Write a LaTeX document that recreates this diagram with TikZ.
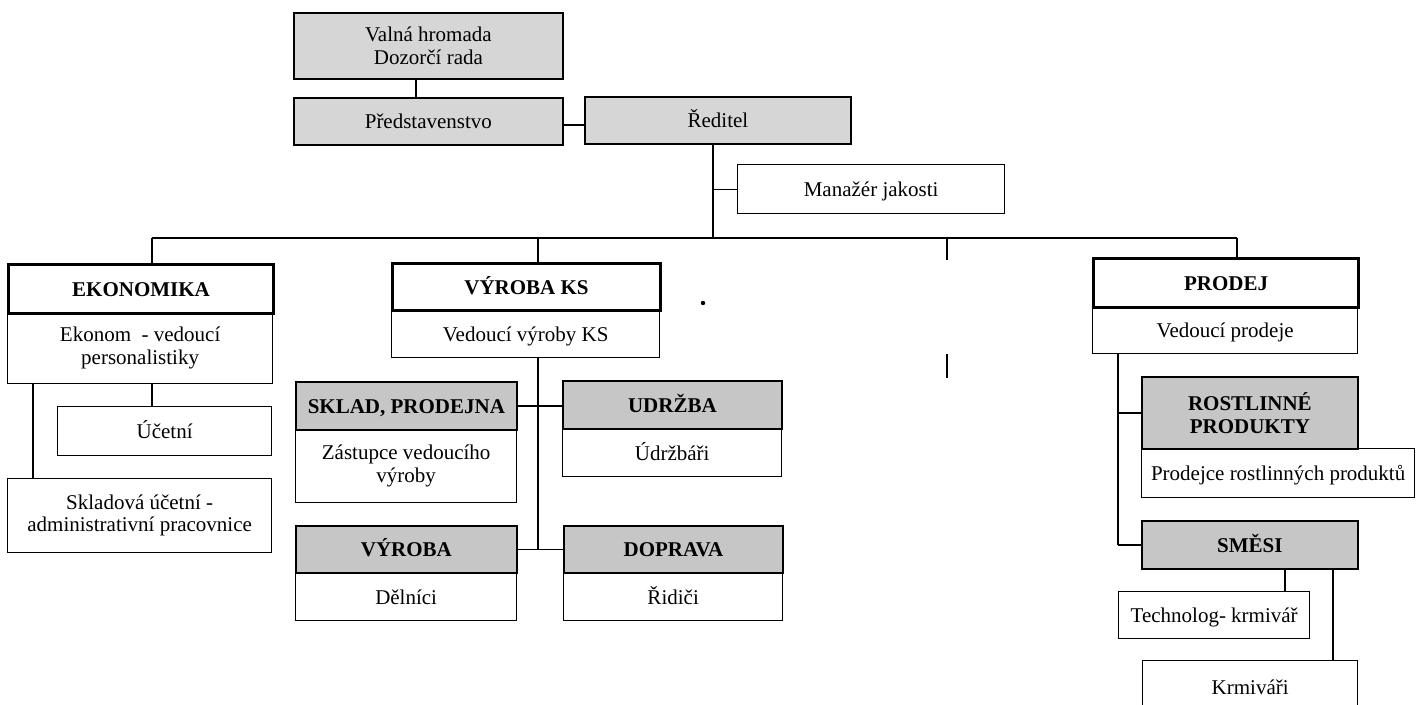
\documentclass[tikz,border=0pt]{standalone}
\usepackage{fontspec}
\setmainfont{Liberation Serif}
\definecolor{topg}{RGB}{214,214,214}
\definecolor{hdr}{RGB}{198,198,198}
\begin{document}
\begin{tikzpicture}[x=1pt,y=-1pt,
  fs/.style={font=\fontsize{21}{22.5}\selectfont},
  box/.style={draw, line width=1.3pt, fill=white, inner sep=0pt, align=center, anchor=north west, fs},
  sl/.style={text height=16pt, text depth=1pt},
  thickhead/.style={box, line width=3pt, font=\fontsize{21}{22.5}\selectfont\bfseries},
  grayhead/.style={box, line width=1.8pt, fill=hdr, font=\fontsize{21}{22.5}\selectfont\bfseries},
  topbox/.style={box, line width=1.8pt, fill=topg},
  link/.style={draw, line width=1.3pt}]
\useasboundingbox (0,0) rectangle (1423,704);
\clip (0,0) rectangle (1423,704);
\fill[white] (0,0) rectangle (1423,704);

% top
\node[topbox, minimum width=269pt, minimum height=66pt] (valna) at (293,12) {Valná hromada\\Dozorčí rada};
\node[topbox, sl, minimum width=269pt, minimum height=47pt] (pred) at (293,97) {Představenstvo};
\node[topbox, sl, minimum width=266pt, minimum height=47pt] (red) at (584,96) {Ředitel};
\node[box, sl, minimum width=267pt, minimum height=49pt] (manazer) at (737,164) {Manažér jakosti};

% EKONOMIKA
\node[box, minimum width=265pt, minimum height=71pt] (ekoB) at (7,312) {Ekonom \ - vedoucí\\personalistiky};
\node[thickhead, sl, minimum width=265pt, minimum height=49pt] (ekoH) at (7,263) {EKONOMIKA};
\node[box, sl, minimum width=214pt, minimum height=49pt] (ucetni) at (57,406) {Účetní};
\node[box, minimum width=264pt, minimum height=74pt] (skladova) at (7,478) {Skladová účetní -\\administrativní pracovnice};

% VYROBA KS
\node[box, sl, minimum width=268pt, minimum height=48pt] (vksB) at (391,309) {Vedoucí výroby KS};
\node[thickhead, sl, minimum width=268pt, minimum height=47pt] (vksH) at (391,262) {VÝROBA KS};
\node[box, minimum width=221pt, minimum height=73pt] (skladB) at (295,429) {Zástupce vedoucího\\výroby};
\node[grayhead, sl, minimum width=221pt, minimum height=48pt] (skladH) at (295,381) {SKLAD, PRODEJNA};
\node[box, sl, minimum width=219pt, minimum height=48pt] (udrB) at (562,428) {Údržbáři};
\node[grayhead, sl, minimum width=219pt, minimum height=48pt] (udrH) at (562,380) {UDRŽBA};
\node[box, sl, minimum width=221pt, minimum height=48pt] (vyrB) at (295,572) {Dělníci};
\node[grayhead, sl, minimum width=221pt, minimum height=47pt] (vyrH) at (295,525) {VÝROBA};
\node[box, sl, minimum width=219pt, minimum height=48pt] (dopB) at (563,572) {Řidiči};
\node[grayhead, sl, minimum width=219pt, minimum height=47pt] (dopH) at (563,525) {DOPRAVA};

% PRODEJ
\node[box, sl, minimum width=265pt, minimum height=47pt] (prodB) at (1092,306) {Vedoucí prodeje};
\node[thickhead, sl, minimum width=265pt, minimum height=49pt] (prodH) at (1092,257) {PRODEJ};
\node[box, sl, minimum width=273pt, minimum height=49pt] (rostB) at (1141,448) {Prodejce rostlinných produktů};
\node[grayhead, minimum width=216pt, minimum height=72pt] (rostH) at (1141,376) {ROSTLINNÉ\\PRODUKTY};
\node[grayhead, sl, minimum width=216pt, minimum height=48pt] (smesi) at (1141,520) {SMĚSI};
\node[box, sl, minimum width=191pt, minimum height=47pt] (tech) at (1118,591) {Technolog- krmivář};
\node[box, sl, minimum width=215pt, minimum height=52pt] (krm) at (1142,660) {Krmiváři};

% connector coordinates
\coordinate (cv) at (416,0);
\coordinate (tr) at (713,0);
\coordinate (bus) at (0,238);
\coordinate (rl) at (0,125);
\coordinate (ce) at (152,0);
\coordinate (ce2) at (33,0);
\coordinate (cv2) at (538,0);
\coordinate (cp) at (1237,0);
\coordinate (cp2) at (1118,0);
\coordinate (cs1) at (1285,0);
\coordinate (cs2) at (1333,0);
\coordinate (tick) at (947,0);
\coordinate (t1) at (0,260);
\coordinate (t2) at (0,354);
\coordinate (t3) at (0,378);

\path[link] (valna.south -| cv) -- (pred.north -| cv);
\path[link] (rl -| pred.east) -- (rl -| red.west);
\path[link] (red.south -| tr) -- (bus -| tr);
\path[link] (manazer.west -| tr) -- (manazer.west);
\path[link] (bus -| ce) -- (bus -| cp);
\path[link] (bus -| ce) -- (ekoH.north -| ce);
\path[link] (bus -| cv2) -- (vksH.north -| cv2);
\path[link] (bus -| cp) -- (prodH.north -| cp);
\path[link] (bus -| tick) -- (t1 -| tick);
\path[link] (t2 -| tick) -- (t3 -| tick);

\path[link] (ekoB.south -| ce2) -- (skladova.north -| ce2);
\path[link] (ekoB.south -| ce) -- (ucetni.north -| ce);

\path[link] (vksB.south -| cv2) -- (vyrH.east -| cv2);
\path[link] (skladH.east) -- (skladH.east -| udrH.west);
\path[link] (vyrH.east) -- (vyrH.east -| dopH.west);

\path[link] (prodB.south -| cp2) -- (smesi.west -| cp2);
\path[link] (rostH.west -| cp2) -- (rostH.west);
\path[link] (smesi.west -| cp2) -- (smesi.west);
\path[link] (smesi.south -| cs1) -- (tech.north -| cs1);
\path[link] (smesi.south -| cs2) -- (krm.north -| cs2);

\fill (703,303) circle (2.2pt);
\end{tikzpicture}
\end{document}
